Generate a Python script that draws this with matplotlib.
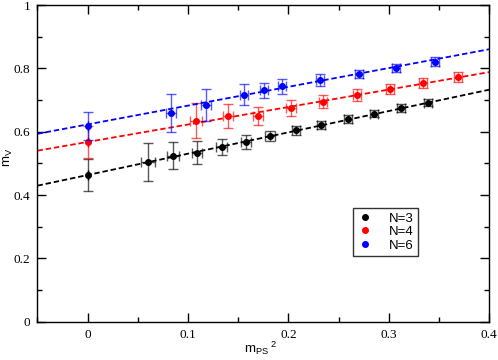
import numpy as np
import matplotlib
matplotlib.use("Agg")
import matplotlib.pyplot as plt
from matplotlib.ticker import MultipleLocator

# donnees (m_PS^2, m_V)
x_n3 = [0.0, 0.060, 0.085, 0.109, 0.1335, 0.158, 0.182, 0.208, 0.2325, 0.259, 0.2855, 0.312, 0.339]
y_n3 = [0.463, 0.504, 0.524, 0.533, 0.552, 0.568, 0.586, 0.604, 0.621, 0.640, 0.657, 0.674, 0.692]
yerr_n3 = [0.05, 0.06, 0.043, 0.036, 0.026, 0.022, 0.016, 0.013, 0.013, 0.012, 0.012, 0.012, 0.012]
xerr_n3 = [0.0, 0.007, 0.006, 0.0053, 0.0055, 0.005, 0.005, 0.004, 0.004, 0.004, 0.004, 0.004, 0.004]

x_n4 = [0.0, 0.108, 0.140, 0.170, 0.203, 0.235, 0.268, 0.301, 0.334, 0.369]
y_n4 = [0.568, 0.635, 0.650, 0.650, 0.674, 0.695, 0.715, 0.734, 0.754, 0.772]
yerr_n4 = [0.05, 0.054, 0.037, 0.029, 0.025, 0.021, 0.019, 0.015, 0.015, 0.015]
xerr_n4 = [0.0, 0.006, 0.005, 0.005, 0.005, 0.004, 0.004, 0.004, 0.004, 0.004]

x_n6 = [0.0, 0.083, 0.118, 0.156, 0.176, 0.194, 0.232, 0.270, 0.307, 0.346]
y_n6 = [0.619, 0.660, 0.685, 0.717, 0.731, 0.743, 0.763, 0.782, 0.802, 0.821]
yerr_n6 = [0.044, 0.06, 0.05, 0.034, 0.024, 0.024, 0.019, 0.013, 0.013, 0.014]
xerr_n6 = [0.0, 0.005, 0.005, 0.004, 0.004, 0.004, 0.004, 0.004, 0.004, 0.004]

# fits lineaires (ordonnee a l'origine, pente)
fit_n3 = (0.4632, 0.673)
fit_n4 = (0.5676, 0.551)
fit_n6 = (0.623, 0.593)

plt.rcParams['mathtext.fontset'] = 'custom'
plt.rcParams['mathtext.rm'] = 'Liberation Sans'
plt.rcParams['mathtext.it'] = 'Liberation Sans'

fig = plt.figure(figsize=(4.98, 3.60), dpi=100)
ax = fig.add_axes([0.0753, 0.1064, 0.9067, 0.8797])

xfit = np.array([-0.05, 0.4])
series = [
    (x_n3, y_n3, xerr_n3, yerr_n3, fit_n3, "black", "N=3"),
    (x_n4, y_n4, xerr_n4, yerr_n4, fit_n4, "red", "N=4"),
    (x_n6, y_n6, xerr_n6, yerr_n6, fit_n6, "blue", "N=6"),
]

for xs, ys, xe, ye, fit, col, lab in series:
    ax.plot(xfit, fit[0] + fit[1] * xfit, color=col, lw=1.3, dashes=(3, 1.6))
    ax.errorbar(xs, ys, xerr=xe, yerr=ye, fmt='none', ecolor=col, elinewidth=1.0,
                capsize=3.5, capthick=1.0, alpha=0.65)
    ax.plot(xs, ys, 'o', color=col, ms=4, label=lab)

ax.set_xlim(-0.05, 0.4)
ax.set_ylim(0, 1)
ax.xaxis.set_minor_locator(MultipleLocator(0.05))
ax.yaxis.set_minor_locator(MultipleLocator(0.1))
ax.set_xticks([0, 0.1, 0.2, 0.3, 0.4])
ax.set_xticklabels(["0", "0.1", "0.2", "0.3", "0.4"])
ax.set_yticks([0, 0.2, 0.4, 0.6, 0.8, 1.0])
ax.set_yticklabels(["0", "0.2", "0.4", "0.6", "0.8", "1"])
ax.tick_params(which='both', direction='in', top=True, right=True, width=1.0)
ax.tick_params(which='major', length=6.7, labelsize=9.5, pad=5)
ax.tick_params(which='minor', length=3.6)
for t in ax.get_xticklabels() + ax.get_yticklabels():
    t.set_fontfamily('Liberation Serif')
for s in ax.spines.values():
    s.set_linewidth(1.0)

ax.set_xlabel(r'$\mathrm{m_{PS}}^{\ 2}$', fontsize=9.5)
ax.set_ylabel(r'$\mathrm{m_{V}}$', fontsize=9.5)
ax.xaxis.set_label_coords(0.495, -0.056)
ax.yaxis.set_label_coords(-0.05, 0.52)

leg = ax.legend(loc='upper left', bbox_to_anchor=(0.6995, 0.358), borderaxespad=0,
                frameon=True, fancybox=False, edgecolor='black', handlelength=1.2,
                handletextpad=1.2, borderpad=0.3, labelspacing=0.1,
                prop={'family': 'Liberation Sans', 'size': 9.5})
leg.get_frame().set_linewidth(1.0)

plt.savefig("out.png", dpi=100)
